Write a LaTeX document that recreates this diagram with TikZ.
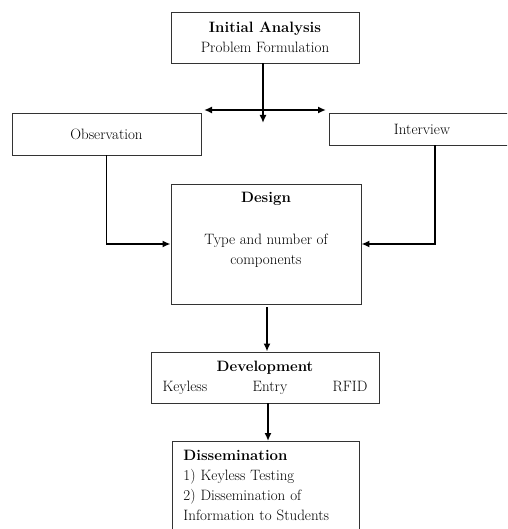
\documentclass[tikz,border=0pt]{standalone}
\usetikzlibrary{arrows.meta}

\begin{document}
\begin{tikzpicture}[
    x=1pt, y=-1pt,
    every node/.style={
        font=\fontsize{15}{20}\selectfont
    },
    box/.style={
        rectangle,
        draw=black!80,
        line width=0.9pt,
        inner sep=0pt,
        align=center
    },
    flow/.style={
        draw=black,
        line width=1.8pt,
        -{Latex[length=8pt,width=7pt]}
    }
]

% Rand
\useasboundingbox (0,0) rectangle (507,529);
\clip (0,0) rectangle (507,529);

% Analyse
\node[box, minimum width=188, minimum height=51] (init) at (265,37.5)
    {\textbf{Initial Analysis}\\Problem Formulation};

% Observatie en interview
\node[box, minimum width=189, minimum height=42] (obs) at (106.5,134)
    {Observation};
\node[box, minimum width=186, minimum height=32] (intv) at (422,129)
    {Interview};

% Ontwerp
\node[box, minimum width=190, minimum height=120] (design) at (266,244)
    {\textbf{Design}\\[22pt]Type and number of\\components\\[12pt]\mbox{}};

% Ontwikkeling
\node[box, minimum width=228, minimum height=51] (dev) at (265,377.5)
    {\textbf{Development}\\\makebox[205pt][s]{Keyless\hfill Entry\hfill RFID}};

% Verspreiding
\node[box, minimum width=187, anchor=north west, align=left,
    inner xsep=11pt, inner ysep=9pt, text width=165pt] (diss) at (172,441)
    {\textbf{Dissemination}\\1) Keyless Testing\\2) Dissemination of\\Information to Students\\[4pt]\mbox{}};

% Vrije eindpunten
\coordinate (split) at (263,123);
\coordinate (left) at (204,110);
\coordinate (right) at (326,110);

% Verbindingen
\draw[flow] (init.south -| split) -- (split);
\draw[flow, {Latex[length=8pt,width=7pt]}-{Latex[length=8pt,width=7pt]}] (left) -- (right);
\draw[flow] (obs.south) |- (design.west);
\draw[flow] ([xshift=13pt]intv.south) |- (design.east);
\draw[flow, shorten <=3pt] ([xshift=1pt]design.south) -- ([xshift=2pt]dev.north);
\draw[flow] ([xshift=3pt]dev.south) -- ([xshift=3pt]dev.south |- diss.north);

\end{tikzpicture}
\end{document}
